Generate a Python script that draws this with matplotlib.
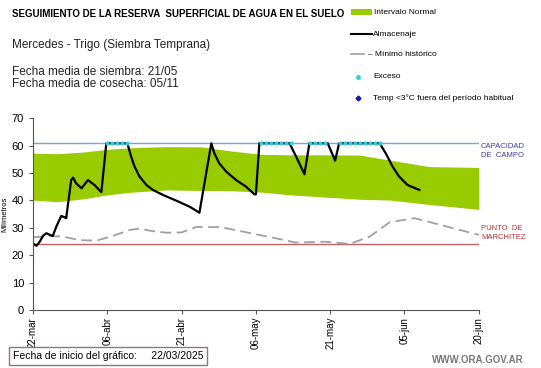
import numpy as np
import pandas as pd
import matplotlib
matplotlib.use("Agg")
import matplotlib.pyplot as plt
from matplotlib.lines import Line2D
from matplotlib.patches import Rectangle

plt.rcParams['font.family'] = ['Liberation Sans', 'DejaVu Sans']

start = pd.Timestamp('2025-03-22')

# datos (dias desde 22-mar)
band_days = [0, 5, 10, 15, 20, 27, 34, 40, 46, 52, 58, 66, 72, 80, 90]
band_upper = [57.2, 57.0, 57.6, 58.6, 59.2, 59.6, 59.5, 58.0, 56.8, 56.6, 56.6, 56.5, 54.7, 52.3, 52.0]
band_lower = [40.1, 39.5, 40.5, 42.0, 43.0, 43.8, 43.6, 43.5, 43.0, 42.0, 41.3, 40.4, 40.1, 38.5, 36.7]

min_days = [0, 3, 6, 9.4, 12.8, 16.1, 19.5, 21.5, 24, 27, 30, 33, 38, 44, 50, 53, 59, 64, 68, 72, 77, 90]
min_hist = [26.5, 27.0, 26.8, 25.5, 25.3, 27.0, 29.2, 29.7, 28.8, 28.2, 28.3, 30.3, 30.2, 28.0, 25.8,
            24.6, 24.9, 24.1, 26.8, 32.0, 33.5, 27.4]

alm_days = [0, 0.7, 1.35, 2.0, 2.7, 3.4, 4.0, 4.7, 5.7, 6.4, 6.7, 7.7, 8.1, 8.7, 9.8, 11.1, 12.4, 13.8,
            14.8, 18.8, 19.15, 19.8, 20.5, 21.5, 22.9, 24.2, 26.2, 28.9, 31.6, 33.6,
            36.0, 36.6, 37.6, 39.0, 41.0, 43.0, 44.7, 45.0,
            45.7, 51.8, 53.1, 54.4, 54.8, 55.8, 59.5, 60.5, 61.0, 61.8,
            70.0, 71.2, 72.6, 73.9, 75.6, 78.0]
almacenaje = [24.3, 23.4, 24.9, 27.0, 28.0, 27.4, 27.0, 30.4, 34.3, 33.8, 33.5, 47.4, 48.3, 46.2, 44.4, 47.4, 45.6, 43.0,
              60.8, 60.8, 60.2, 56.0, 52.3, 48.7, 45.6, 43.8, 42.0, 39.9, 37.7, 35.5,
              60.8, 57.2, 53.5, 50.5, 47.4, 45.0, 42.2, 42.2,
              60.8, 60.8, 56.0, 51.1, 49.5, 60.8, 60.8, 56.6, 54.5, 60.8,
              60.8, 57.2, 52.3, 48.7, 45.6, 43.8]

exceso_days = [15, 16, 17, 18, 19, 46, 47, 48, 49, 50, 51, 52, 56, 57, 58, 59,
               62, 63, 64, 65, 66, 67, 68, 69, 70]
exceso = [60.8] * len(exceso_days)

capacidad = 60.8
marchitez = 24.2

tick_days = [0, 15, 30, 45, 60, 75, 90]
tick_labels = ['22-mar', '06-abr', '21-abr', '06-may', '21-may', '05-jun', '20-jun']


def to_dates(days):
    return start + pd.to_timedelta(days, unit='D')


fig = plt.figure(figsize=(5.41, 3.68), dpi=100)
ax = fig.add_axes([0.061, 0.1576, 0.824, 0.5215])

x0, x1 = to_dates([0])[0], to_dates([90])[0]

ax.fill_between(to_dates(band_days), band_lower, band_upper, color='#99cc00', lw=0)
ax.plot([x0, x1], [capacidad, capacidad], color='#7f9fd8', lw=1)
ax.plot([x0, x1], [marchitez, marchitez], color='#c06060', lw=1)
ax.plot(to_dates(min_days), min_hist, color='#a0a0a0', lw=1.3, dashes=(6, 3))
ax.plot(to_dates(alm_days), almacenaje, color='black', lw=1.6, solid_joinstyle='round')
ax.plot(to_dates(exceso_days), exceso, ls='none', marker='o', ms=2.0, color='#33ccdd', mec='#33ccdd')

ax.set_xlim(x0, x1)
ax.set_ylim(0, 70)
ax.set_yticks(range(0, 71, 10))
ax.set_xticks(to_dates(tick_days))
ax.set_xticklabels(tick_labels, rotation=90, fontsize=7)
ax.tick_params(axis='y', labelsize=8, length=3, color='#555555')
ax.tick_params(axis='x', length=3, color='#555555', pad=2)
for s in ['top', 'right']:
    ax.spines[s].set_visible(False)
for s in ['left', 'bottom']:
    ax.spines[s].set_color('#555555')
ax.set_ylabel('Milímetros', fontsize=5.5, labelpad=2)

ax.text(1.005, capacidad, 'CAPACIDAD\nDE  CAMPO', transform=ax.get_yaxis_transform(),
        color='#3a3aa8', fontsize=5.5, va='top', ha='left', linespacing=1.3)
ax.text(1.005, marchitez + 1, 'PUNTO  DE\nMARCHITEZ', transform=ax.get_yaxis_transform(),
        color='#c03030', fontsize=5.5, va='bottom', ha='left', linespacing=1.3)

# textos de encabezado (coordenadas en pixeles del lienzo)
W, H = 541, 368


def ftext(x, y, s, **kw):
    fig.text(x / W, 1 - y / H, s, **kw)


ftext(12, 14, 'SEGUIMIENTO DE LA RESERVA  SUPERFICIAL DE AGUA EN EL SUELO',
      fontsize=7, fontweight='bold', va='center')
ftext(12, 45, 'Mercedes - Trigo (Siembra Temprana)', fontsize=8.5, va='center', color='#222222')
ftext(12, 72, 'Fecha media de siembra: 21/05', fontsize=8.5, va='center', color='#222222')
ftext(12, 84, 'Fecha media de cosecha: 05/11', fontsize=8.5, va='center', color='#222222')

# leyenda manual
fig.patches.append(Rectangle((351 / W, 1 - 15 / H), 21 / W, 6 / H, transform=fig.transFigure,
                             color='#99cc00', lw=0))
ftext(374, 12, 'Intervalo Normal', fontsize=6, va='center')
fig.lines.append(Line2D([351 / W, 372 / W], [1 - 34 / H] * 2, transform=fig.transFigure,
                        color='black', lw=1.5))
ftext(373, 34, 'Almacenaje', fontsize=6, va='center')
fig.lines.append(Line2D([351 / W, 364 / W], [1 - 54 / H] * 2, transform=fig.transFigure,
                        color='#a0a0a0', lw=1.2))
ftext(368, 54, '– Mínimo histórico', fontsize=6, va='center')
fig.lines.append(Line2D([358 / W], [1 - 77 / H], transform=fig.transFigure,
                        marker='o', ms=2.5, color='#33ccdd', ls='none'))
ftext(373, 77, 'Exceso', fontsize=6, va='center')
fig.lines.append(Line2D([358 / W], [1 - 98 / H], transform=fig.transFigure,
                        marker='D', ms=2.5, color='#1a1aa0', ls='none'))
ftext(373, 98, 'Temp <3°C fuera del período habitual', fontsize=6, va='center')

# recuadro de fecha de inicio
ftext(13, 356, 'Fecha de inicio del gráfico:     22/03/2025', fontsize=7.5, va='center',
      bbox=dict(boxstyle='square,pad=0.35', fc='white', ec='#8a7a7a', lw=1))
ftext(524, 360, 'WWW.ORA.GOV.AR', fontsize=7, va='center', ha='right', color='#777777',
      fontweight='bold')

fig.savefig('out.png', dpi=100)
